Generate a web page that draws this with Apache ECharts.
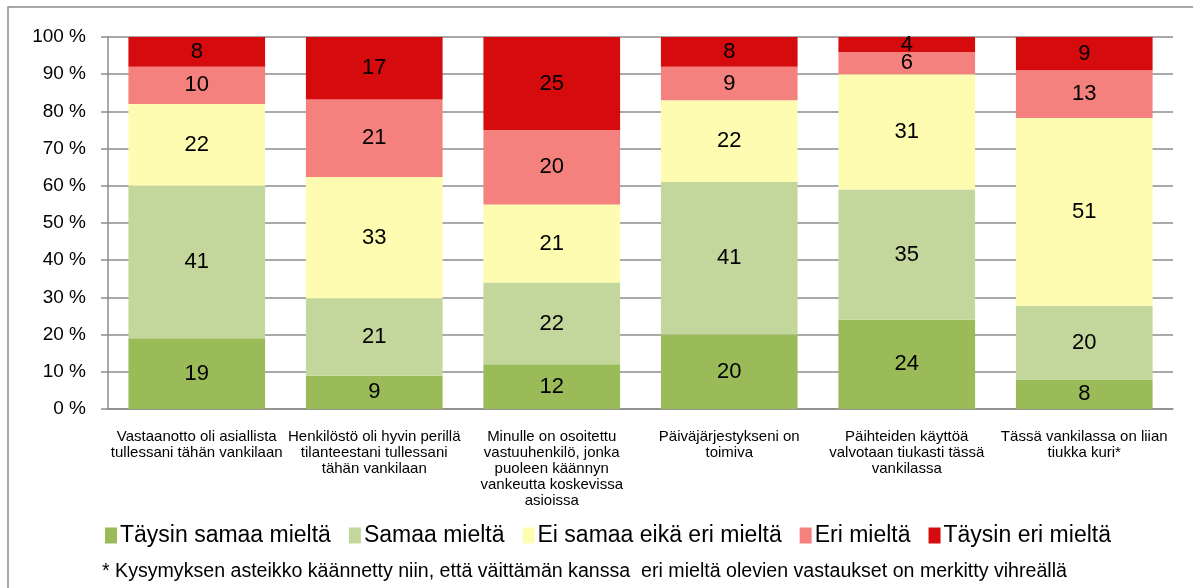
<!DOCTYPE html>
<html>
<head>
<meta charset="utf-8">
<script src="https://cdn.jsdelivr.net/npm/echarts@6/dist/echarts.min.js"></script>
<style>
  html, body { margin: 0; padding: 0; background: #fff; }
  #chart { width: 1193px; height: 588px; }
</style>
</head>
<body>
<div id="chart"></div>
<script>
// kategoriat (rivinvaihdot kuten alkuperäisessä)
var categories = [
  'Vastaanotto oli asiallista\ntullessani tähän vankilaan',
  'Henkilöstö oli hyvin perillä\ntilanteestani tullessani\ntähän vankilaan',
  'Minulle on osoitettu\nvastuuhenkilö, jonka\npuoleen käännyn\nvankeutta koskevissa\nasioissa',
  'Päiväjärjestykseni on\ntoimiva',
  'Päihteiden käyttöä\nvalvotaan tiukasti tässä\nvankilassa',
  'Tässä vankilassa on liian\ntiukka kuri*'
];
var seriesNames = ['Täysin samaa mieltä', 'Samaa mieltä', 'Ei samaa eikä eri mieltä', 'Eri mieltä', 'Täysin eri mieltä'];
var taysinSamaa = [19, 9, 12, 20, 24, 8];
var samaa       = [41, 21, 22, 41, 35, 20];
var eiSamaaEiEri= [22, 33, 21, 22, 31, 51];
var eri         = [10, 21, 20, 9, 6, 13];
var taysinEri   = [8, 17, 25, 8, 4, 9];
var yTicks = [0, 10, 20, 30, 40, 50, 60, 70, 80, 90, 100];
var footnote = '* Kysymyksen asteikko käännetty niin, että väittämän kanssa  eri mieltä olevien vastaukset on merkitty vihreällä';

var colors = ['#9bbb59', '#c3d69b', '#fdfcb0', '#f4817d', '#d50b0d'];
var raw = [taysinSamaa, samaa, eiSamaaEiEri, eri, taysinEri];

// 100 % pinottu: skaalataan jokainen pylväs summaansa
var totals = categories.map(function(c, i){
  var s = 0;
  raw.forEach(function(arr){ s += arr[i]; });
  return s;
});

var font = "'Liberation Sans', Arial, sans-serif";

var series = raw.map(function(arr, k){
  return {
    name: seriesNames[k],
    type: 'bar',
    stack: 'total',
    barWidth: '77%',
    itemStyle: { color: colors[k] },
    label: {
      show: true,
      position: 'inside',
      color: '#000',
      fontSize: 22,
      fontFamily: font,
      formatter: function(p){ return arr[p.dataIndex]; }
    },
    data: arr.map(function(v, i){ return v / totals[i] * 100; })
  };
});

var option = {
  animation: false,
  backgroundColor: '#fff',
  textStyle: { fontFamily: font },
  grid: { left: 108, right: 20, top: 37, bottom: 179 },
  legend: {
    bottom: 36,
    left: 100,
    itemWidth: 12,
    itemHeight: 16,
    itemGap: 18,
    icon: 'rect',
    textStyle: { fontSize: 23, color: '#000', fontFamily: font, padding: [0, 0, 0, -2] },
    data: seriesNames
  },
  graphic: [
    {
      type: 'rect',
      shape: { x: 8, y: 7, width: 1200, height: 600 },
      style: { fill: 'none', stroke: '#8c8c8c', lineWidth: 1.5 },
      silent: true
    },
    {
      type: 'text',
      left: 102,
      top: 562,
      style: { text: footnote, fill: '#000', font: '19.6px ' + font }
    }
  ],
  xAxis: {
    type: 'category',
    data: categories,
    axisLine: { lineStyle: { color: '#8c8c8c', width: 1.5 } },
    axisTick: { show: false },
    axisLabel: { color: '#000', fontSize: 15, lineHeight: 16, margin: 20, interval: 0 }
  },
  yAxis: {
    type: 'value',
    min: 0,
    max: 100,
    interval: 10,
    axisLine: { show: true, lineStyle: { color: '#8c8c8c', width: 1.5 } },
    axisTick: { show: true, length: 7, lineStyle: { color: '#8c8c8c', width: 1.5 } },
    splitLine: { lineStyle: { color: '#8c8c8c', width: 1.5 } },
    axisLabel: {
      color: '#000',
      fontSize: 19,
      margin: 22,
      formatter: function(v){ return yTicks.indexOf(v) >= 0 ? v + ' %' : ''; }
    }
  },
  series: series
};

var myChart = echarts.init(document.getElementById('chart'));
myChart.setOption(option);
</script>
</body>
</html>
